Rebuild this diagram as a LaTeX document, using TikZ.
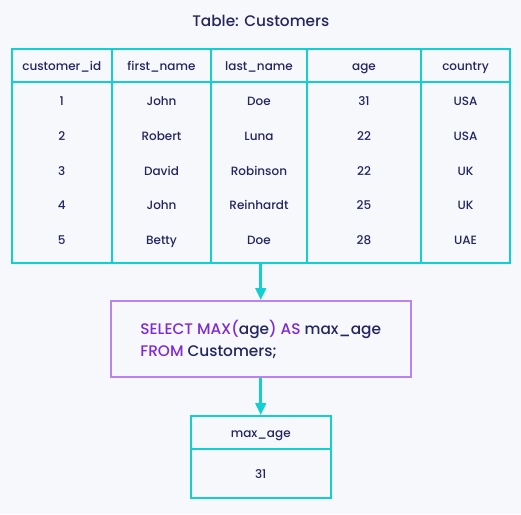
\documentclass[tikz,border=0pt]{standalone}
\usepackage{fontspec}
\setmainfont{Poppins}[UprightFont=* Medium]
\usetikzlibrary{arrows.meta,fit}

\definecolor{bgcol}{RGB}{247,248,252}
\definecolor{tealc}{RGB}{16,208,212}
\definecolor{violc}{RGB}{184,132,242}
\definecolor{kwcol}{RGB}{126,42,214}
\definecolor{inkc}{RGB}{37,38,94}

\tikzset{every picture/.style={line width=0.75pt}}
\tikzset{
  cell/.style={text=inkc,font=\fontsize{9}{11}\selectfont,text height=9pt,text depth=2pt},
  grid/.style={draw=tealc,line width=1.5pt},
  link/.style={draw=tealc,line width=1.9pt,-{Triangle[length=9pt,width=8pt]}},
}
\newcommand{\kw}[1]{\textcolor{kwcol}{#1}}

\begin{document}
\begin{tikzpicture}[x=0.75pt,y=0.75pt,yscale=-1,xscale=1]
	\useasboundingbox [fill=bgcol] (0,0) rectangle (521,514);

	% Text Node
	\draw (260.75,21) node [text=inkc,font=\fontsize{11.5}{13}\selectfont] (ttl) {Table: Customers};

	%Shape: Table [id:tbl]
	\coordinate (tl) at (11.5,49);
	\coordinate (br) at (510,263);
	\node [grid,fit=(tl)(br),inner sep=0pt] (tbl) {};
	%Straight Lines
	\draw [grid] (11.5,82) -- (510,82) ;
	\draw [grid] (112,49) -- (112,263) ;
	\draw [grid] (211,49) -- (211,263) ;
	\draw [grid] (307,49) -- (307,263) ;
	\draw [grid] (421,49) -- (421,263) ;

	% Text Node: header
	\draw (61.75,65.5) node [cell] (h1) {customer\_id};
	\draw (161.5,65.5) node [cell] (h2) {first\_name};
	\draw (259,65.5) node [cell] (h3) {last\_name};
	\draw (364,65.5) node [cell] (h4) {age};
	\draw (465.5,65.5) node [cell] (h5) {country};

	% Text Node: row 1
	\draw (61.75,101) node [cell] (a1) {1};
	\draw (161.5,101) node [cell] (a2) {John};
	\draw (259,101) node [cell] (a3) {Doe};
	\draw (364,101) node [cell] (a4) {31};
	\draw (465.5,101) node [cell] (a5) {USA};
	% Text Node: row 2
	\draw (61.75,135.75) node [cell] (b1) {2};
	\draw (161.5,135.75) node [cell] (b2) {Robert};
	\draw (259,135.75) node [cell] (b3) {Luna};
	\draw (364,135.75) node [cell] (b4) {22};
	\draw (465.5,135.75) node [cell] (b5) {USA};
	% Text Node: row 3
	\draw (61.75,170.5) node [cell] (c1) {3};
	\draw (161.5,170.5) node [cell] (c2) {David};
	\draw (259,170.5) node [cell] (c3) {Robinson};
	\draw (364,170.5) node [cell] (c4) {22};
	\draw (465.5,170.5) node [cell] (c5) {UK};
	% Text Node: row 4
	\draw (61.75,205.25) node [cell] (d1) {4};
	\draw (161.5,205.25) node [cell] (d2) {John};
	\draw (259,205.25) node [cell] (d3) {Reinhardt};
	\draw (364,205.25) node [cell] (d4) {25};
	\draw (465.5,205.25) node [cell] (d5) {UK};
	% Text Node: row 5
	\draw (61.75,240) node [cell] (e1) {5};
	\draw (161.5,240) node [cell] (e2) {Betty};
	\draw (259,240) node [cell] (e3) {Doe};
	\draw (364,240) node [cell] (e4) {28};
	\draw (465.5,240) node [cell] (e5) {UAE};

	%Shape: Rectangle [id:qry]
	\draw (260.75,339) node [draw=violc,line width=1.5pt,minimum width=225pt,minimum height=57pt,
	  align=left,text=inkc,font=\fontsize{11.5}{16.5}\selectfont] (qry)
	  {\kw{SELECT MAX(}age\kw{)} \kw{AS} max\_age\\ \kw{FROM} Customers;};

	%Shape: Rectangle [id:resh]
	\draw (260.75,432.5) node [cell,grid,minimum width=105pt,minimum height=24.75pt] (resh) {max\_age};
	%Shape: Rectangle [id:resv]
	\draw (260.75,473.5) node [cell,grid,minimum width=105pt,minimum height=36.75pt] (resv) {31};

	%Straight Lines
	\draw [link] (tbl.south) -- (qry.north) ;
	\draw [link] (qry.south) -- (resh.north) ;

\end{tikzpicture}
\end{document}
